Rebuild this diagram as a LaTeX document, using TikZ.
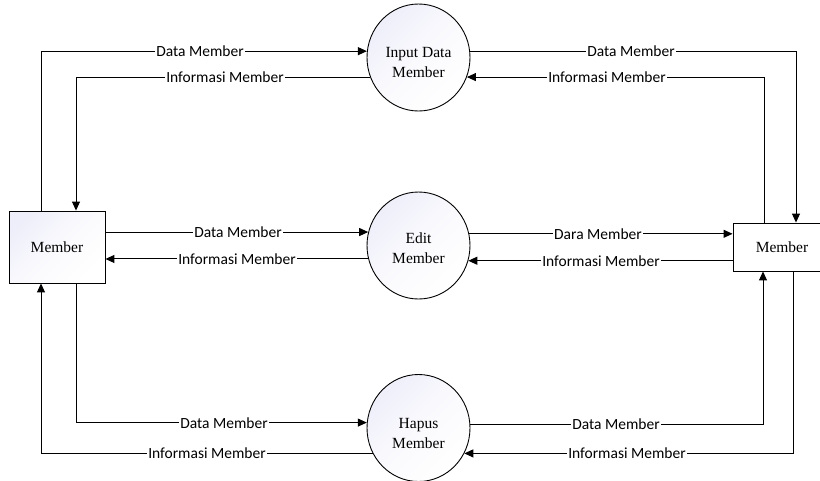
\documentclass[tikz,border=0pt]{standalone}
\usepackage{fontspec}
\setmainfont{Liberation Serif}
\newfontfamily\lblfont{Carlito}
\usetikzlibrary{arrows.meta,shapes.geometric}
\definecolor{lav}{rgb}{0.935,0.935,0.98}
\begin{document}
\begin{tikzpicture}[x=1pt,y=-1pt,
  ent/.style={draw, line width=0.9pt, rectangle, inner sep=0pt, font=\fontsize{15.5}{20}\selectfont},
  proc/.style={draw, line width=0.9pt, ellipse, inner sep=0pt, minimum width=103pt, minimum height=107pt,
    top color=lav, bottom color=white, middle color=lav!30!white, shading angle=45},
  ptext/.style={align=center, inner sep=0pt, font=\fontsize{15.5}{20}\selectfont},
  flow/.style={line width=1pt, -{Triangle[length=9pt,width=8pt]}},
  lbl/.style={fill=white, inner sep=1pt, font=\lblfont\fontsize{15.5}{18}\selectfont}
]
\clip (0,0) rectangle (820,480);
\fill[white] (0,0) rectangle (820,480);
% entities
\node[ent, minimum width=96pt, minimum height=72pt, top color=lav, bottom color=white, middle color=lav!30!white, shading angle=45] (lb) at (57,247) {};
\node[ent, minimum width=98pt, minimum height=48pt, fill=white] (rb) at (782,247) {};
\node[ptext] (lbt) at (57,247) {Member};
\node[ptext] (rbt) at (782,247) {Member};
% processes
\node[proc] (c1) at (418.5,57.5) {};
\node[proc] (c2) at (418.5,245.5) {};
\node[proc] (c3) at (418.5,428) {};
\node[ptext] (c1t) at (418.5,62) {Input Data\\Member};
\node[ptext] (c2t) at (418.5,248) {Edit\\Member};
\node[ptext] (c3t) at (418.5,433) {Hapus\\Member};
% top
\draw[flow] (lb.north -| 41,0) |- (c1.173);
\draw[flow] (c1.202) -| (lb.north -| 76,0);
\draw[flow] (c1.7) -| (rb.north -| 796,0);
\draw[flow] (rb.north -| 764,0) |- (c1.-22);
% middle
\draw[flow] (lb.east |- c2.165) -- (c2.165);
\draw[flow] (c2.195) -- (lb.east |- c2.195);
\draw[flow] (c2.13) -- (rb.west |- c2.13);
\draw[flow] (rb.west |- c2.-17) -- (c2.-17);
% bottom
\draw[flow] (lb.south -| 76,0) |- (c3.174);
\draw[flow] (c3.209) -| (lb.south -| 41,0);
\draw[flow] (c3.4.5) -| (rb.south -| 763,0);
\draw[flow] (rb.south -| 793,0) |- (c3.-29);
% labels
\node[lbl] (l1) at (200,51) {Data Member};
\node[lbl] (l2) at (225,77) {Informasi Member};
\node[lbl] (l3) at (631,51) {Data Member};
\node[lbl] (l4) at (607,77) {Informasi Member};
\node[lbl] (l5) at (238,232) {Data Member};
\node[lbl] (l6) at (237,259) {Informasi Member};
\node[lbl] (l7) at (598,234) {Dara Member};
\node[lbl] (l8) at (601,261) {Informasi Member};
\node[lbl] (l9) at (224,423) {Data Member};
\node[lbl] (l10) at (207,453) {Informasi Member};
\node[lbl] (l11) at (616,424) {Data Member};
\node[lbl] (l12) at (627,453) {Informasi Member};
\end{tikzpicture}
\end{document}
